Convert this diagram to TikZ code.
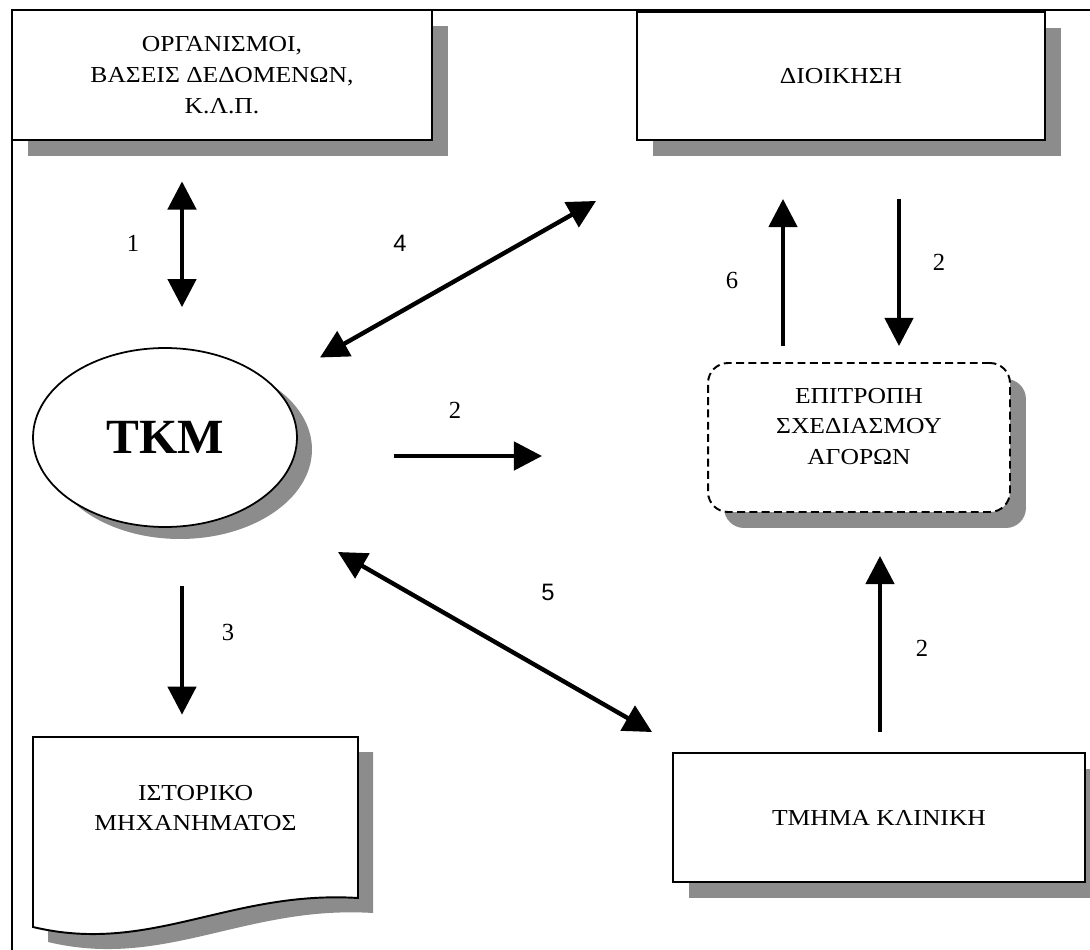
\documentclass[tikz,border=0pt]{standalone}
\usepackage{fontspec}
\setmainfont{Liberation Serif}
\newfontfamily\grfont[FakeStretch=1.12]{Liberation Serif}
\newfontfamily\numsans{Liberation Sans}
\usetikzlibrary{arrows.meta,shapes.geometric,shadows,calc}

\tikzset{
  boxline/.style={draw=black, line width=1.1pt, fill=white},
  boxshadow/.style={drop shadow={shadow xshift=0.32cm, shadow yshift=-0.32cm, fill=black!45, opacity=1}},
  boxtext/.style={font=\grfont\fontsize{13}{17.5}\selectfont, align=center},
  bigarrow/.style={color=black, line width=2.5pt},
  numlabel/.style={font=\fontsize{14}{16}\selectfont},
  sanslabel/.style={font=\numsans\fontsize{13.5}{16}\selectfont},
}

\begin{document}
\begin{tikzpicture}[x=0.02cm, y=-0.02cm, >={Triangle[length=16pt,width=16pt]}]
\useasboundingbox (0,0) rectangle (1090,950);
\clip (0,0) rectangle (1090,950);
% frame
\draw[color=black, line width=0.9pt] (12,960) -- (12,10) -- (1100,10);

% boxes
\node (org) at (222,75) [boxline, boxshadow, boxtext, line width=1.6pt, minimum width=8.4cm, minimum height=2.6cm] {ΟΡΓΑΝΙΣΜΟΙ,\\ΒΑΣΕΙΣ ΔΕΔΟΜΕΝΩΝ,\\Κ.Λ.Π.};
\node (dioikisi) at (841,76) [boxline, boxshadow, boxtext, minimum width=8.16cm, minimum height=2.56cm] {ΔΙΟΙΚΗΣΗ};
\node (tkm) at (165,437.5) [ellipse, draw=black, line width=1pt, fill=white,
  drop shadow={shadow xshift=0.3cm, shadow yshift=-0.24cm, fill=black!45, opacity=1},
  minimum width=5.28cm, minimum height=3.58cm, font=\bfseries\fontsize{28}{30}\selectfont] {ΤΚΜ};
\node (epitropi) at (859,437.5) [boxline, boxshadow, boxtext, rounded corners=0.4cm, dash pattern=on 4.5pt off 2.5pt,
  minimum width=6.04cm, minimum height=2.98cm, text depth=0.45cm] {ΕΠΙΤΡΟΠΗ\\ΣΧΕΔΙΑΣΜΟΥ\\ΑΓΟΡΩΝ};
\node (klin) at (879,817.5) [boxline, boxshadow, boxtext, minimum width=8.24cm, minimum height=2.58cm] {ΤΜΗΜΑ ΚΛΙΝΙΚΗ};

% document shape
\begin{scope}[shift={(15,15)}]
\fill[black!45] (33,737) -- (358,737) -- (358,898) .. controls (230,890) and (150,955) .. (33,927) -- cycle;
\end{scope}
\draw[boxline] (33,737) -- (358,737) -- (358,898) .. controls (230,890) and (150,955) .. (33,927) -- cycle;
\node (istoriko) at (195.5,808) [boxtext, minimum width=6.5cm, minimum height=2.84cm] {ΙΣΤΟΡΙΚΟ\\ΜΗΧΑΝΗΜΑΤΟΣ};

% arrows
\draw[bigarrow, <->] ($(org.south)+(-40,40)$) -- ($(tkm.north)+(17,-40)$);
\draw[bigarrow, <->] ($(tkm.center)+(155,-80)$) -- ($(dioikisi.south west)+(-40,60)$);
\draw[bigarrow, ->] ($(epitropi.north)+(-76,-16)$) -- ($(dioikisi.south)+(-58,58)$);
\draw[bigarrow, ->] ($(dioikisi.south)+(58,58)$) -- ($(epitropi.north)+(40,-16)$);
\draw[bigarrow, ->] ($(tkm.east)+(96,18.5)$) -- ($(epitropi.west)+(-165,18.5)$);
\draw[bigarrow, <->] ($(tkm.center)+(173,114.5)$) -- ($(klin.north west)+(-20,-20)$);
\draw[bigarrow, ->] ($(tkm.south)+(17,58)$) -- ($(istoriko.north)+(-13.5,-22)$);
\draw[bigarrow, ->] ($(klin.north)+(1,-20)$) -- ($(epitropi.south)+(21,43)$);

% labels
\node (n1) at (133,243) [numlabel] {1};
\node (n4) at (400,243) [sanslabel] {4};
\node (n6) at (732,280) [numlabel] {6};
\node (n2a) at (939,262) [numlabel] {2};
\node (n2b) at (455,410) [numlabel] {2};
\node (n5) at (548,592) [sanslabel] {5};
\node (n3) at (228,632) [numlabel] {3};
\node (n2c) at (922,648) [numlabel] {2};
\end{tikzpicture}
\end{document}
